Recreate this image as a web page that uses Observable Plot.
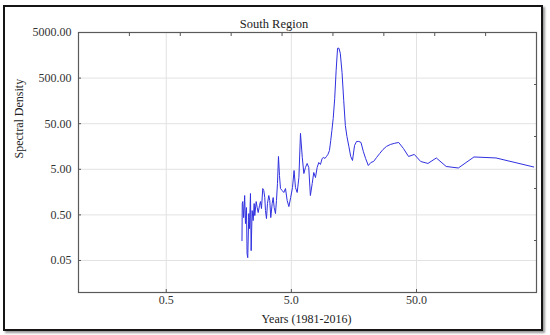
<!DOCTYPE html>
<html>
<head>
<meta charset="utf-8">
<script src="https://cdn.jsdelivr.net/npm/d3@7"></script>
<script src="https://cdn.jsdelivr.net/npm/@observablehq/plot@0.6"></script>
<style>
  html, body { margin: 0; padding: 0; background: #fff; }
  #wrap { position: relative; width: 550px; height: 335px; }
  #box { position: absolute; left: 3px; top: 5px; width: 540px; height: 326px; box-sizing: border-box;
         border: 2.5px solid #151515; box-shadow: 2px 2px 2px #9a9a9a; }
  #chart { position: absolute; left: 0; top: 0; }
</style>
</head>
<body>
<div id="wrap"><div id="box"></div><div id="chart"></div></div>
<script>
const title = "South Region";
const xLabel = "Years (1981-2016)";
const yLabel = "Spectral Density";
const xTicks = [0.5, 5, 50];
const yTicks = [0.05, 0.5, 5, 50, 500, 5000];
const xDomain = [0.0995, 455];
const yDomain = [0.00993, 5000];

const periods = [2.015, 2.026, 2.044, 2.078, 2.117, 2.149, 2.189, 2.213, 2.241, 2.284,
  2.313, 2.356, 2.386, 2.430, 2.476, 2.522, 2.550, 2.617, 2.666, 2.715,
  2.781, 2.832, 2.885, 2.954, 3.010, 3.065, 3.105, 3.163, 3.221, 3.300,
  3.361, 3.423, 3.512, 3.577, 3.644, 3.732, 3.801, 3.872, 3.944, 4.017,
  4.092, 4.222, 4.350, 4.486, 4.630, 4.777, 4.936, 5.105, 5.255, 5.392,
  5.565, 5.744, 5.912, 6.113, 6.292, 6.481, 6.687, 6.885, 7.094, 7.337,
  7.550, 7.790, 8.035, 8.280, 8.541, 8.809, 9.075, 9.280, 9.540, 9.80,
  10.08, 10.32, 10.54, 10.8, 11.1, 11.4, 11.7, 12.0, 12.3, 12.7,
  13.1, 13.5, 13.9, 14.4, 14.9, 15.4, 16.0, 16.6, 17.3, 18.0,
  18.8, 19.6, 20.6, 21.6, 22.7, 24.0, 25.4, 27.0, 28.8, 30.9,
  33.2, 36.0, 39.3, 43.2, 48.0, 54.0, 61.7, 72.0, 86.4, 108,
  144, 216, 432];
const density = [0.136, 0.886, 0.980, 0.436, 1.33, 0.322, 0.724, 0.0705, 0.0576, 0.534,
  0.250, 1.47, 0.0821, 0.622, 0.375, 0.886, 0.483, 0.980, 0.724, 0.562,
  0.800, 0.980, 0.688, 1.89, 1.71, 1.20, 0.622, 0.415, 0.886, 1.33,
  1.03, 0.436, 0.886, 1.20, 0.724, 0.534, 1.03, 2.44, 9.55, 3.65,
  1.89, 1.71, 1.55, 1.89, 1.03, 0.761, 1.20, 1.99, 4.70, 1.99,
  1.55, 3.30, 30.6, 9.08, 4.04, 5.48, 6.71, 5.48, 1.33, 2.44,
  4.25, 3.30, 5.48, 7.05, 6.38, 8.64, 9.08, 8.64, 9.55, 10.6,
  12.9, 21.5, 35.6, 65.4, 180, 742, 2259, 2259, 1754, 671,
  163, 45.9, 26.3, 15.9, 9.55, 7.80, 16.7, 20.4, 20.4, 19.4,
  12.3, 8.64, 6.06, 7.05, 7.42, 9.08, 11.1, 13.6, 15.9, 17.5,
  18.5, 19.4, 14.3, 9.55, 10.6, 7.42, 6.71, 8.86, 5.76, 5.34,
  9.32, 8.86, 5.62];

const data = periods.map((p, i) => ({period: p, density: density[i]}));

// secondary (unlabelled) ticks: equal divisions of the frame in log space
const lx0 = Math.log10(xDomain[0]), lx1 = Math.log10(xDomain[1]);
const ly0 = Math.log10(yDomain[0]), ly1 = Math.log10(yDomain[1]);
const topTicks = d3.range(1, 9).map(i => Math.pow(10, lx0 + i * (lx1 - lx0) / 9));
const rightTicks = d3.range(1, 5).map(i => Math.pow(10, ly0 + i * (ly1 - ly0) / 5));

const fmtX = d3.format(".1f");
const fmtY = d3.format(".2f");

const chart = Plot.plot({
  width: 550,
  height: 335,
  marginLeft: 78,
  marginRight: 14,
  marginTop: 32,
  marginBottom: 43,
  style: {fontFamily: "'Liberation Serif', 'Times New Roman', serif", fontSize: "12px", color: "#333", background: "transparent"},
  x: {type: "log", domain: xDomain, axis: null},
  y: {type: "log", domain: yDomain, axis: null},
  marks: [
    Plot.gridX(xTicks, {stroke: "#e2e2e2", strokeOpacity: 1}),
    Plot.gridY(yTicks, {stroke: "#e2e2e2", strokeOpacity: 1}),
    Plot.line(data, {x: "period", y: "density", stroke: "#3030e0", strokeWidth: 1}),
    Plot.axisX(xTicks, {anchor: "bottom", tickSize: -3, text: null, tickFormat: null, label: null, stroke: "#555", fill: "none"}),
    Plot.axisY(yTicks, {anchor: "left", tickSize: -3, text: null, tickFormat: null, label: null, stroke: "#555", fill: "none"}),
    Plot.axisX(topTicks, {anchor: "top", tickSize: -3, text: null, tickFormat: null, label: null, stroke: "#555", fill: "none"}),
    Plot.axisY(rightTicks, {anchor: "right", tickSize: -3, text: null, tickFormat: null, label: null, stroke: "#555", fill: "none"}),
    Plot.text(xTicks, {x: d => d, text: d => fmtX(d), frameAnchor: "bottom", dy: 11.5, fill: "#333"}),
    Plot.text(yTicks, {y: d => d, text: d => fmtY(d), frameAnchor: "left", textAnchor: "end", dx: -7, fill: "#333"}),
    Plot.frame({stroke: "#5a5a5a", strokeWidth: 1.2}),
    Plot.text([title], {frameAnchor: "top", dx: -33.5, dy: -13, fill: "#222", fontSize: 12.5}),
    Plot.text([xLabel], {frameAnchor: "bottom", dx: -1, dy: 30, fill: "#222"}),
    Plot.text([yLabel], {frameAnchor: "left", dx: -59.5, dy: -4, rotate: -90, fill: "#222"})
  ]
});
document.getElementById("chart").appendChild(chart);
</script>
</body>
</html>
